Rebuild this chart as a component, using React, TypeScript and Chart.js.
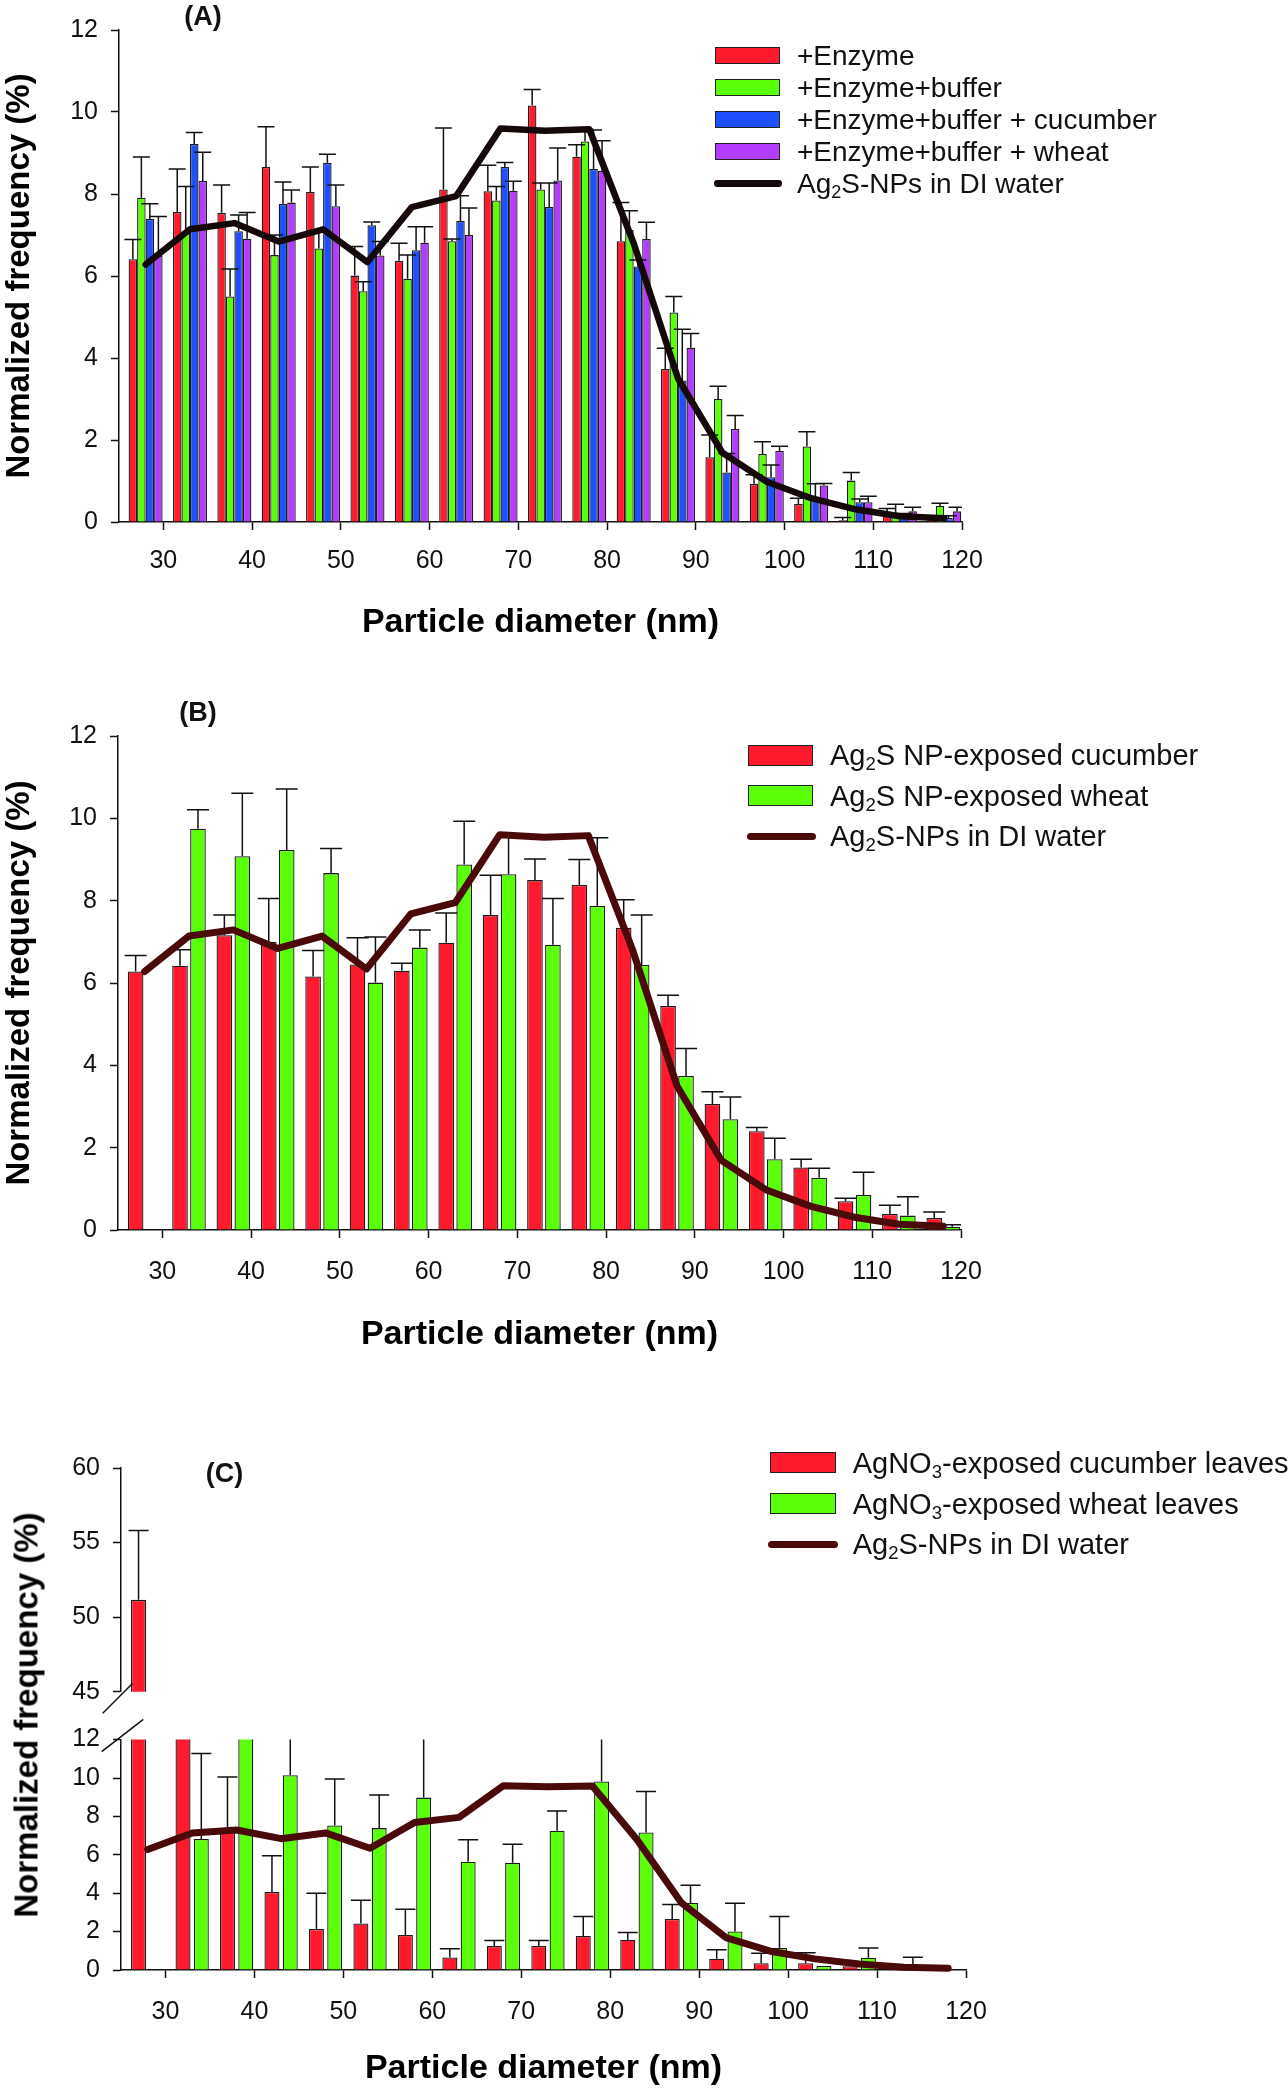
import React, { useEffect, useRef } from 'react';
import { Chart, registerables } from 'chart.js';

Chart.register(...registerables);

const FONT = "'Liberation Sans', Arial, Helvetica, sans-serif";

// ---------- data ----------
const bins = [28, 33, 38, 43, 48, 53, 58, 63, 68, 73, 78, 83, 88, 93, 98, 103, 108, 113, 118];
const xTickValues = [30, 40, 50, 60, 70, 80, 90, 100, 110, 120];
const yTicksMain = [0, 2, 4, 6, 8, 10, 12];
const yTicksCTop = [45, 50, 55, 60];
const yTicksCBottom = [0, 2, 4, 6, 8, 10, 12];

// Ag2S-NPs in DI water (reference curve, all panels)
const diWater = [6.28, 7.14, 7.29, 6.84, 7.14, 6.34, 7.68, 7.95, 9.6, 9.54, 9.58, 6.8, 3.5, 1.69, 0.98, 0.58, 0.31, 0.14, 0.09];

// Panel A
const aEnzyme = [6.41, 7.56, 7.54, 8.66, 8.05, 6.01, 6.37, 8.11, 8.07, 10.16, 8.91, 6.85, 3.73, 1.58, 0.93, 0.44, 0.04, 0.21, 0.05];
const aEnzymeErr = [0.48, 1.05, 0.68, 0.98, 0.61, 0.71, 0.43, 1.5, 0.63, 0.39, 0.29, 0.94, 0.51, 0.54, 0.22, 0.14, 0.07, 0.12, 0.05];
const aBuffer = [7.91, 7.05, 5.5, 6.51, 6.67, 5.63, 5.93, 6.85, 7.84, 8.11, 9.28, 7.12, 5.11, 3.0, 1.66, 1.84, 1.01, 0.21, 0.39];
const aBufferErr = [0.99, 1.13, 0.67, 0.49, 0.45, 0.23, 0.58, 0.05, 0.34, 0.16, 0.3, 0.47, 0.39, 0.31, 0.3, 0.36, 0.2, 0.22, 0.07];
const aCucumber = [7.39, 9.22, 7.09, 7.76, 8.76, 7.24, 6.63, 7.34, 8.66, 7.68, 8.61, 6.23, 3.45, 1.21, 1.09, 0.55, 0.48, 0.15, 0.1];
const aCucumberErr = [0.37, 0.28, 0.4, 0.53, 0.21, 0.08, 0.57, 0.62, 0.11, 0.59, 0.95, 0.16, 1.25, 0.46, 0.3, 0.38, 0.08, 0.06, 0.05];
const aWheat = [6.5, 8.32, 6.91, 7.79, 7.7, 6.5, 6.81, 7.0, 8.08, 8.33, 8.57, 6.9, 4.25, 2.27, 1.73, 0.89, 0.48, 0.26, 0.26];
const aWheatErr = [0.95, 0.7, 0.64, 0.31, 0.52, 0.34, 0.39, 0.66, 0.23, 0.79, 0.73, 0.41, 0.35, 0.33, 0.12, 0.05, 0.15, 0.1, 0.1];

// Panel B
const bCucumber = [6.28, 6.42, 7.16, 7.0, 6.16, 6.45, 6.3, 6.98, 7.65, 8.5, 8.38, 7.34, 5.44, 3.06, 2.4, 1.52, 0.7, 0.39, 0.29];
const bCucumberErr = [0.39, 0.39, 0.49, 1.05, 0.63, 0.65, 0.18, 0.72, 0.97, 0.51, 0.62, 0.68, 0.26, 0.3, 0.09, 0.2, 0.07, 0.21, 0.15];
const bWheat = [null, 9.75, 9.08, 9.23, 8.67, 6.01, 6.86, 8.88, 8.64, 6.93, 7.87, 6.44, 3.74, 2.69, 1.72, 1.27, 0.85, 0.35, 0.08];
const bWheatErr = [null, 0.46, 1.53, 1.48, 0.6, 1.11, 0.43, 1.05, 0.93, 1.12, 1.66, 1.21, 0.67, 0.54, 0.51, 0.23, 0.55, 0.46, 0.05];

// Panel C
const cCucumber = [51.16, 16.0, 7.2, 4.06, 2.14, 2.42, 1.82, 0.65, 1.25, 1.25, 1.77, 1.58, 2.66, 0.59, 0.35, 0.35, 0.2, 0.05, null];
const cCucumberErr = [4.65, 0, 2.85, 1.89, 1.86, 1.21, 1.34, 0.46, 0.28, 0.28, 1.02, 0.37, 0.75, 0.47, 0.52, 0.55, 0, 0, null];
const cWheat = [null, 6.82, 12.4, 10.14, 7.53, 7.39, 8.98, 5.64, 5.58, 7.25, 9.82, 7.16, 3.49, 2.01, 1.15, 0.21, 0.64, 0.1, null];
const cWheatErr = [null, 4.45, 0, 2.5, 2.42, 1.72, 3.5, 1.15, 0.97, 1.03, 2.5, 2.14, 0.92, 1.47, 1.64, 0, 0.5, 0.56, null];

const seriesA = ['+Enzyme', '+Enzyme+buffer', '+Enzyme+buffer + cucumber', '+Enzyme+buffer + wheat'];

// ---------- styles ----------
const RED = '#ff1a2d';
const GREEN = '#5cff0a';
const BLUE = '#1f50ff';
const PURPLE = '#b33cff';
const LINE_A = '#140808';
const LINE_BC = '#4a0a0a';
const INK = '#111';

type Pt = { x: number; y: number; e: number };

function toPoints(vals: (number | null)[], errs: (number | null)[]): Pt[] {
  const out: Pt[] = [];
  vals.forEach((v, i) => {
    if (v !== null && v !== undefined) out.push({ x: bins[i], y: v, e: (errs[i] as number) || 0 });
  });
  return out;
}

function barSet(label: string, color: string, vals: (number | null)[], errs: (number | null)[], catPct: number, barPct: number) {
  return {
    type: 'bar',
    label,
    data: toPoints(vals, errs),
    backgroundColor: color,
    borderColor: '#1b1b1b',
    borderWidth: 1.3,
    categoryPercentage: catPct,
    barPercentage: barPct,
    clip: 0,
    order: 1,
  };
}

function lineSet(color: string, width: number) {
  return {
    type: 'line',
    label: 'Ag2S-NPs in DI water',
    data: bins.map((x, i) => ({ x, y: diWater[i] })),
    borderColor: color,
    backgroundColor: color,
    borderWidth: width,
    pointRadius: 0,
    pointHoverRadius: 0,
    tension: 0,
    fill: false,
    borderJoinStyle: 'round',
    borderCapStyle: 'round',
    order: 0,
    clip: 12,
  };
}

function makeErrorPlugin(capHalf: number) {
  const draw = (chart: any) => {
    const { ctx, chartArea: a } = chart;
    ctx.save();
    ctx.beginPath();
    ctx.rect(a.left, a.top, a.right - a.left, a.bottom - a.top);
    ctx.clip();
    ctx.beginPath();
    chart.data.datasets.forEach((ds: any, i: number) => {
      if (ds.type === 'line') return;
      const meta = chart.getDatasetMeta(i);
      const yScale = chart.scales[meta.yAxisID];
      meta.data.forEach((bar: any, j: number) => {
        const p = ds.data[j];
        if (!p || !p.e) return;
        const x = bar.x;
        const y0 = yScale.getPixelForValue(p.y);
        const y1 = yScale.getPixelForValue(p.y + p.e);
        ctx.moveTo(x, y0);
        ctx.lineTo(x, y1);
        ctx.moveTo(x - capHalf, y1);
        ctx.lineTo(x + capHalf, y1);
      });
    });
    ctx.lineWidth = 1.5;
    ctx.strokeStyle = INK;
    ctx.stroke();
    ctx.restore();
  };
  return {
    id: 'errorBars',
    beforeDatasetDraw(chart: any, args: any) {
      if (chart.data.datasets[args.index].type === 'line') draw(chart);
    },
    afterDatasetsDraw(chart: any) {
      if (!chart.data.datasets.some((d: any) => d.type === 'line')) draw(chart);
    },
  };
}

type BreakSeg = { edge: 'top' | 'bottom'; dx1: number; dy1: number; dx2: number; dy2: number };

function makeBreakPlugin(segs: BreakSeg[]) {
  return {
    id: 'axisBreak',
    afterDraw(chart: any) {
      if (!segs.length) return;
      const { ctx, chartArea: a } = chart;
      ctx.save();
      ctx.strokeStyle = INK;
      ctx.lineWidth = 1.5;
      ctx.beginPath();
      segs.forEach((s) => {
        const y0 = s.edge === 'bottom' ? a.bottom : a.top;
        ctx.moveTo(a.left + s.dx1, y0 + s.dy1);
        ctx.lineTo(a.left + s.dx2, y0 + s.dy2);
      });
      ctx.stroke();
      ctx.restore();
    },
  };
}

interface PanelOpts {
  datasets: any[];
  yTicks: number[];
  yWidth: number;
  showX: boolean;
  xHeight?: number;
  xTitle?: string;
  xTitlePad?: number;
  xTickPad?: number;
  yTitle?: string;
  padding: { left: number; top: number; right: number; bottom: number };
  capHalf: number;
  breaks?: BreakSeg[];
}

function buildConfig(o: PanelOpts): any {
  const tickFont = { family: FONT, size: 25 };
  const grid = {
    display: true,
    offset: false,
    drawOnChartArea: false,
    drawTicks: true,
    tickLength: 8,
    tickWidth: 1.5,
    tickColor: INK,
  };
  const border = { display: true, color: INK, width: 1.5 };
  return {
    type: 'bar',
    data: { datasets: o.datasets },
    options: {
      responsive: false,
      maintainAspectRatio: false,
      animation: false,
      devicePixelRatio: 1,
      events: [],
      layout: { padding: o.padding },
      plugins: { legend: { display: false }, tooltip: { enabled: false } },
      scales: {
        x: {
          type: 'linear',
          min: 25,
          max: 120,
          offset: false,
          display: o.showX,
          afterBuildTicks: (s: any) => {
            s.ticks = xTickValues.map((v) => ({ value: v }));
          },
          ticks: {
            autoSkip: false,
            maxRotation: 0,
            minRotation: 0,
            font: tickFont,
            color: INK,
            padding: o.xTickPad ?? 16,
          },
          grid,
          border,
          title: {
            display: !!o.xTitle,
            text: o.xTitle || '',
            font: { family: FONT, size: 34, weight: 'bold' },
            color: '#000',
            padding: { top: 0, bottom: o.xTitlePad ?? 17 },
          },
          afterFit: (s: any) => {
            if (o.xHeight) s.height = o.xHeight;
          },
        },
        y: {
          type: 'linear',
          min: o.yTicks[0],
          max: o.yTicks[o.yTicks.length - 1],
          afterBuildTicks: (s: any) => {
            s.ticks = o.yTicks.map((v) => ({ value: v }));
          },
          ticks: { font: tickFont, color: INK, padding: 13 },
          grid,
          border,
          title: {
            display: !!o.yTitle,
            text: o.yTitle || '',
            font: { family: FONT, size: 33, weight: 'bold' },
            color: '#000',
            padding: { top: 0, bottom: 0 },
          },
          afterFit: (s: any) => {
            s.width = o.yWidth;
          },
        },
      },
    },
    plugins: [makeErrorPlugin(o.capHalf), makeBreakPlugin(o.breaks || [])],
  };
}

// ---------- panel configs ----------
const W = 1288;

function configA() {
  return buildConfig({
    datasets: [
      lineSet(LINE_A, 6.5),
      barSet(seriesA[0], RED, aEnzyme, aEnzymeErr, 0.767, 1.0),
      barSet(seriesA[1], GREEN, aBuffer, aBufferErr, 0.767, 1.0),
      barSet(seriesA[2], BLUE, aCucumber, aCucumberErr, 0.767, 1.0),
      barSet(seriesA[3], PURPLE, aWheat, aWheatErr, 0.767, 1.0),
    ],
    yTicks: yTicksMain,
    yWidth: 119,
    showX: true,
    xHeight: 138,
    xTitle: 'Particle diameter (nm)',
    xTitlePad: 17,
    xTickPad: 16,
    yTitle: 'Normalized frequency (%)',
    padding: { left: 0, top: 30, right: W - 962, bottom: 0 },
    capHalf: 8.5,
  });
}

function configB() {
  return buildConfig({
    datasets: [
      lineSet(LINE_BC, 7),
      barSet('Ag2S NP-exposed cucumber', RED, bCucumber, bCucumberErr, 0.81, 0.87),
      barSet('Ag2S NP-exposed wheat', GREEN, bWheat, bWheatErr, 0.81, 0.87),
    ],
    yTicks: yTicksMain,
    yWidth: 118,
    showX: true,
    xHeight: 150,
    xTitle: 'Particle diameter (nm)',
    xTitlePad: 24.8,
    xTickPad: 19,
    yTitle: 'Normalized frequency (%)',
    padding: { left: 0, top: 56, right: W - 961, bottom: 0 },
    capHalf: 11,
  });
}

function configCTop() {
  return buildConfig({
    datasets: [
      barSet('AgNO3-exposed cucumber leaves', RED, cCucumber, cCucumberErr, 0.823, 0.82),
      barSet('AgNO3-exposed wheat leaves', GREEN, cWheat, cWheatErr, 0.823, 0.82),
    ],
    yTicks: yTicksCTop,
    yWidth: 121,
    showX: false,
    padding: { left: 0, top: 21.7, right: W - 966, bottom: 28.3 },
    capHalf: 10,
    breaks: [{ edge: 'bottom', dx1: -18.3, dy1: 21.6, dx2: 11.7, dy2: -8.4 }],
  });
}

function configCBottom() {
  return buildConfig({
    datasets: [
      lineSet(LINE_BC, 7),
      barSet('AgNO3-exposed cucumber leaves', RED, cCucumber, cCucumberErr, 0.823, 0.82),
      barSet('AgNO3-exposed wheat leaves', GREEN, cWheat, cWheatErr, 0.823, 0.82),
    ],
    yTicks: yTicksCBottom,
    yWidth: 121,
    showX: true,
    xHeight: 125,
    xTitle: 'Particle diameter (nm)',
    xTitlePad: 5.6,
    xTickPad: 18.7,
    padding: { left: 0, top: 34.6, right: W - 966, bottom: 0 },
    capHalf: 10,
    breaks: [{ edge: 'top', dx1: -19.3, dy1: 12.1, dx2: 22.3, dy2: -20.3 }],
  });
}

// ---------- components ----------
function ChartCanvas({ top, height, build }: { top: number; height: number; build: () => any }) {
  const ref = useRef<HTMLCanvasElement>(null);
  useEffect(() => {
    const chart = new Chart(ref.current as HTMLCanvasElement, build());
    return () => chart.destroy();
  }, []);
  return (
    <canvas
      ref={ref}
      width={W}
      height={height}
      style={{ position: 'absolute', left: 0, top, width: W, height, display: 'block' }}
    />
  );
}

const Sub = ({ children }: { children: React.ReactNode }) => (
  <sub style={{ fontSize: '0.64em', verticalAlign: '-0.3em', lineHeight: 0 }}>{children}</sub>
);

type LegItem = { kind: 'box' | 'line'; color: string; label: React.ReactNode };

function Legend(p: {
  x: number;
  top: number;
  rowH: number;
  boxW: number;
  boxH: number;
  lineX: number;
  lineW: number;
  lineH: number;
  textX: number;
  fontSize: number;
  items: LegItem[];
}) {
  return (
    <>
      {p.items.map((it, i) => {
        const rowTop = p.top + i * p.rowH;
        return (
          <div key={i} style={{ position: 'absolute', left: 0, top: rowTop, height: p.rowH, width: W }}>
            {it.kind === 'box' ? (
              <div
                style={{
                  position: 'absolute',
                  left: p.x,
                  top: (p.rowH - p.boxH) / 2,
                  width: p.boxW,
                  height: p.boxH,
                  background: it.color,
                  border: '1.5px solid #222',
                  boxSizing: 'border-box',
                }}
              />
            ) : (
              <div
                style={{
                  position: 'absolute',
                  left: p.lineX,
                  top: (p.rowH - p.lineH) / 2,
                  width: p.lineW,
                  height: p.lineH,
                  background: it.color,
                  borderRadius: p.lineH / 2,
                }}
              />
            )}
            <span
              style={{
                position: 'absolute',
                left: p.textX,
                top: '50%',
                transform: 'translateY(-50%)',
                fontSize: p.fontSize,
                fontFamily: FONT,
                lineHeight: 1,
                whiteSpace: 'nowrap',
                color: INK,
              }}
            >
              {it.label}
            </span>
          </div>
        );
      })}
    </>
  );
}

function PanelLabel({ cx, cy, text }: { cx: number; cy: number; text: string }) {
  return (
    <div
      style={{
        position: 'absolute',
        left: cx,
        top: cy,
        transform: 'translate(-50%, -50%)',
        fontFamily: FONT,
        fontWeight: 'bold',
        fontSize: 27,
        lineHeight: 1,
        whiteSpace: 'nowrap',
        color: INK,
      }}
    >
      {text}
    </div>
  );
}

export default function App() {
  return (
    <div
      style={{
        position: 'absolute',
        left: 0,
        top: 0,
        width: W,
        height: 2095,
        background: '#fff',
        overflow: 'hidden',
        fontFamily: FONT,
      }}
    >
      <ChartCanvas top={0} height={660} build={configA} />
      <ChartCanvas top={680} height={700} build={configB} />
      <ChartCanvas top={1440} height={280} build={configCTop} />
      <ChartCanvas top={1705} height={390} build={configCBottom} />

      <PanelLabel cx={203} cy={16} text="(A)" />
      <PanelLabel cx={198} cy={712} text="(B)" />
      <PanelLabel cx={224.5} cy={1472.5} text="(C)" />

      <div
        style={{
          position: 'absolute',
          left: 26,
          top: 1715,
          transform: 'translate(-50%, -50%) rotate(-90deg)',
          fontFamily: FONT,
          fontWeight: 'bold',
          fontSize: 33,
          lineHeight: 1,
          whiteSpace: 'nowrap',
          color: '#000',
        }}
      >
        Normalized frequency (%)
      </div>

      <Legend
        x={715}
        top={39.7}
        rowH={32}
        boxW={65}
        boxH={17}
        lineX={714}
        lineW={68}
        lineH={6.5}
        textX={797}
        fontSize={28}
        items={[
          { kind: 'box', color: RED, label: seriesA[0] },
          { kind: 'box', color: GREEN, label: seriesA[1] },
          { kind: 'box', color: BLUE, label: seriesA[2] },
          { kind: 'box', color: PURPLE, label: seriesA[3] },
          { kind: 'line', color: LINE_A, label: <>Ag<Sub>2</Sub>S-NPs in DI water</> },
        ]}
      />
      <Legend
        x={748}
        top={734.75}
        rowH={40.5}
        boxW={65}
        boxH={21}
        lineX={747}
        lineW={69}
        lineH={7}
        textX={830}
        fontSize={29}
        items={[
          { kind: 'box', color: RED, label: <>Ag<Sub>2</Sub>S NP-exposed cucumber</> },
          { kind: 'box', color: GREEN, label: <>Ag<Sub>2</Sub>S NP-exposed wheat</> },
          { kind: 'line', color: LINE_BC, label: <>Ag<Sub>2</Sub>S-NPs in DI water</> },
        ]}
      />
      <Legend
        x={770}
        top={1442.5}
        rowH={40.7}
        boxW={66}
        boxH={21}
        lineX={768}
        lineW={70}
        lineH={7}
        textX={852.7}
        fontSize={29}
        items={[
          { kind: 'box', color: RED, label: <>AgNO<Sub>3</Sub>-exposed cucumber leaves</> },
          { kind: 'box', color: GREEN, label: <>AgNO<Sub>3</Sub>-exposed wheat leaves</> },
          { kind: 'line', color: LINE_BC, label: <>Ag<Sub>2</Sub>S-NPs in DI water</> },
        ]}
      />
    </div>
  );
}
